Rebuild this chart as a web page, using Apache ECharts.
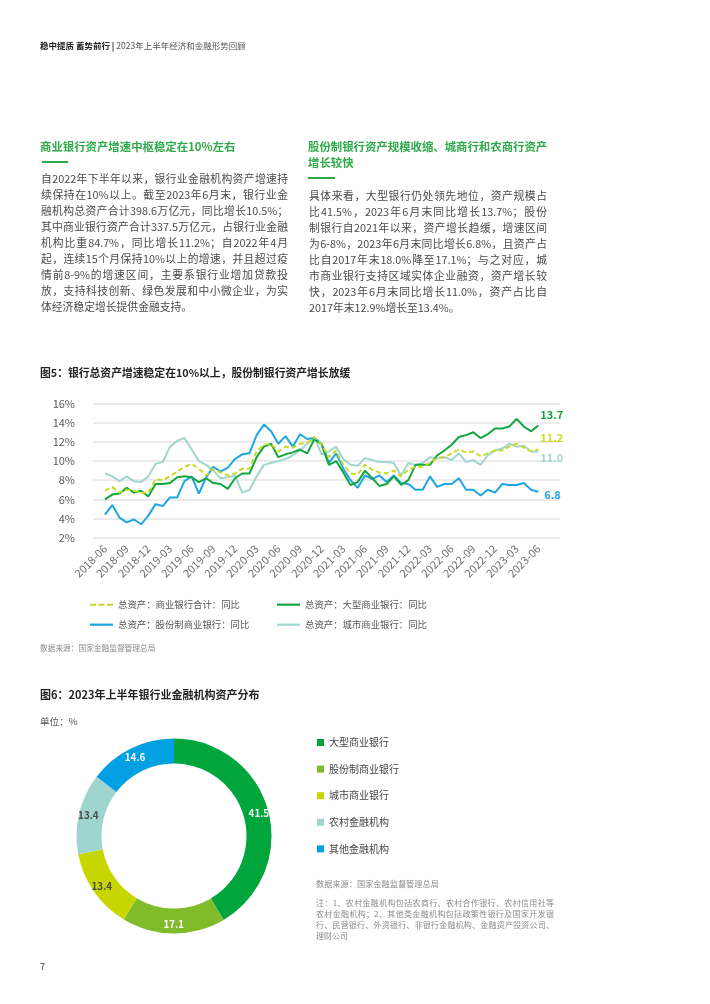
<!DOCTYPE html>
<html><head><meta charset="utf-8">
<script src="https://cdn.jsdelivr.net/npm/echarts/dist/echarts.min.js"></script>
<style>
html,body{margin:0;padding:0;background:#fff;}
body{width:710px;height:1004px;position:relative;font-family:'Noto Sans CJK SC','Noto Sans',sans-serif;overflow:hidden;}
#chart{position:absolute;left:0;top:0;width:710px;height:1004px;}
.abs{position:absolute;white-space:nowrap;z-index:2;}
.para{position:absolute;z-index:2;color:#4a4a4a;font-size:10.8px;}
.para div{height:16px;line-height:16px;text-align:justify;text-align-last:justify;}
.para div.last{text-align-last:left;}
.title{color:#2eaa4a;font-weight:bold;font-size:11.4px;line-height:16px;}
.bar{position:absolute;height:2px;background:#2eaa4a;z-index:2;}
.note{position:absolute;z-index:2;color:#8a8a8a;font-size:8px;}
.note div{height:11px;line-height:11px;text-align:justify;text-align-last:justify;}
.note div.last{text-align-last:left;}
</style></head>
<body>
<div id="chart"></div>

<div class="abs" style="left:40px;top:39px;font-size:8.5px;line-height:12px;color:#555;"><b style="color:#222">稳中提质 蓄势前行</b> <b style="color:#222">|</b> 2023年上半年经济和金融形势回顾</div>

<div class="abs title" style="left:40px;top:138px;">商业银行资产增速中枢稳定在10%左右</div>
<div class="bar" style="left:42px;top:161px;width:26px;"></div>
<div class="para" style="left:41px;top:170px;width:247px;">
<div>自2022年下半年以来，银行业金融机构资产增速持</div>
<div>续保持在10%以上。截至2023年6月末，银行业金</div>
<div>融机构总资产合计398.6万亿元，同比增长10.5%；</div>
<div>其中商业银行资产合计337.5万亿元，占银行业金融</div>
<div>机构比重84.7%，同比增长11.2%；自2022年4月</div>
<div>起，连续15个月保持10%以上的增速，并且超过疫</div>
<div>情前8-9%的增速区间，主要系银行业增加贷款投</div>
<div>放，支持科技创新、绿色发展和中小微企业，为实</div>
<div class="last">体经济稳定增长提供金融支持。</div>
</div>

<div class="abs title" style="left:308px;top:138px;">股份制银行资产规模收缩、城商行和农商行资产<br>增长较快</div>
<div class="bar" style="left:308px;top:177px;width:27px;"></div>
<div class="para" style="left:309px;top:187px;width:238px;">
<div>具体来看，大型银行仍处领先地位，资产规模占</div>
<div>比41.5%，2023年6月末同比增长13.7%；股份</div>
<div>制银行自2021年以来，资产增长趋缓，增速区间</div>
<div>为6-8%，2023年6月末同比增长6.8%，且资产占</div>
<div>比自2017年末18.0%降至17.1%；与之对应，城</div>
<div>市商业银行支持区域实体企业融资，资产增长较</div>
<div>快，2023年6月末同比增长11.0%，资产占比自</div>
<div class="last">2017年末12.9%增长至13.4%。</div>
</div>

<div class="abs" style="left:40px;top:364px;font-size:10.8px;line-height:16px;font-weight:bold;color:#222;">图5：银行总资产增速稳定在10%以上，股份制银行资产增长放缓</div>
<div class="abs" style="left:40px;top:642px;font-size:7.7px;line-height:11px;color:#8a8a8a;">数据来源：国家金融监督管理总局</div>

<div class="abs" style="left:40px;top:686px;font-size:11px;line-height:16px;font-weight:bold;color:#222;">图6：2023年上半年银行业金融机构资产分布</div>
<div class="abs" style="left:40px;top:715px;font-size:9.6px;line-height:13px;color:#555;">单位：%</div>

<div class="abs" style="left:316px;top:878px;font-size:8.2px;line-height:11px;color:#8a8a8a;">数据来源：国家金融监督管理总局</div>
<div class="note" style="left:316px;top:897px;width:238px;">
<div>注：1、农村金融机构包括农商行、农村合作银行、农村信用社等</div>
<div>农村金融机构；2、其他类金融机构包括政策性银行及国家开发银</div>
<div>行、民营银行、外资银行、非银行金融机构、金融资产投资公司、</div>
<div class="last">理财公司</div>
</div>

<div class="abs" style="left:40px;top:961px;font-size:9px;line-height:12px;color:#333;">7</div>

<script>
// ---------- Figure 5 data ----------
const months = [
 '2018-06','2018-07','2018-08','2018-09','2018-10','2018-11','2018-12',
 '2019-01','2019-02','2019-03','2019-04','2019-05','2019-06','2019-07','2019-08','2019-09','2019-10','2019-11','2019-12',
 '2020-01','2020-02','2020-03','2020-04','2020-05','2020-06','2020-07','2020-08','2020-09','2020-10','2020-11','2020-12',
 '2021-01','2021-02','2021-03','2021-04','2021-05','2021-06','2021-07','2021-08','2021-09','2021-10','2021-11','2021-12',
 '2022-01','2022-02','2022-03','2022-04','2022-05','2022-06','2022-07','2022-08','2022-09','2022-10','2022-11','2022-12',
 '2023-01','2023-02','2023-03','2023-04','2023-05','2023-06'
];
const totalBank = [6.9,7.3,6.7,7.0,6.9,6.7,6.7,8.1,8.0,8.4,8.9,9.4,9.7,9.2,8.5,9.2,8.8,8.5,8.7,9.2,9.2,
 11.0,11.7,11.8,11.0,11.5,11.4,11.8,11.9,12.5,11.7,10.4,11.1,9.6,8.7,8.6,9.6,9.1,8.8,8.7,9.0,8.4,9.1,
 9.4,9.4,9.8,10.3,10.4,10.8,11.2,10.9,11.0,10.5,10.8,11.1,11.1,11.5,11.8,11.4,11.0,11.2];
const bigBank = [6.0,6.5,6.6,7.2,6.7,6.9,6.3,7.6,7.6,7.7,8.3,8.4,8.3,7.8,8.2,7.7,7.6,7.1,8.2,8.7,8.7,
 10.4,11.5,11.8,10.4,10.7,10.9,11.2,10.8,12.3,11.7,9.6,10.0,8.8,7.5,7.8,9.0,8.2,7.4,7.6,8.4,7.5,8.0,
 9.6,9.6,9.6,10.6,11.1,11.7,12.5,12.7,13.0,12.4,12.8,13.4,13.4,13.6,14.4,13.6,13.1,13.7];
const jointStock = [4.4,5.4,4.1,3.6,3.9,3.4,4.3,5.5,5.3,6.2,6.2,7.9,8.4,6.6,8.3,9.4,8.9,9.3,10.2,10.7,10.8,
 12.7,13.8,13.1,11.8,12.6,11.5,12.8,12.3,12.4,11.8,9.8,10.8,9.2,8.0,7.2,8.5,8.1,8.5,7.8,8.5,7.7,7.6,
 7.0,7.0,8.4,7.3,7.6,7.6,8.2,7.0,7.0,6.4,7.0,6.7,7.6,7.5,7.5,7.7,7.0,6.8];
const cityBank = [8.7,8.4,7.9,8.4,7.9,7.8,8.4,9.7,9.9,11.5,12.1,12.4,11.2,10.0,9.6,9.0,8.2,8.3,8.5,6.7,7.0,
 8.4,9.6,9.8,10.0,10.2,10.6,11.1,11.8,12.4,10.7,11.0,11.5,10.2,9.6,9.5,10.3,10.1,9.9,9.9,9.8,8.5,9.8,
 9.6,9.8,10.4,10.3,10.4,10.1,10.8,9.9,10.1,9.6,10.6,11.1,11.3,11.8,11.5,11.6,11.0,11.0];
const lineNames = ['总资产：商业银行合计：同比','总资产：大型商业银行：同比','总资产：股份制商业银行：同比','总资产：城市商业银行：同比'];

// ---------- Figure 6 data ----------
const pieNames = ['大型商业银行','股份制商业银行','城市商业银行','农村金融机构','其他金融机构'];
const pieValues = [41.5,17.1,13.4,13.4,14.6];

const FONT = "'Noto Sans CJK SC','Noto Sans',sans-serif";
const C_TOTAL = '#c9d924', C_BIG = '#12a63f', C_JOINT = '#1ea5e3', C_CITY = '#a1d6ce';
const pieColors = ['#00a63c','#7fbb2a','#c8d600','#a0d5cf','#00a0e2'];
const pieLabelColors = ['#fff','#fff','#4a4a4a','#4a4a4a','#fff'];

const chart = echarts.init(document.getElementById('chart'), null, {renderer:'canvas'});

function lineSeries(name, data, color, dashed, endOffset){
  return {
    name, type:'line', data, xAxisIndex:1, yAxisIndex:1,
    symbol:'none', smooth:false,
    lineStyle:{color, width:2, type: dashed ? [5,3] : 'solid'},
    itemStyle:{color},
    endLabel:{show:true, distance:1, offset:endOffset, color, fontSize:11, fontWeight:'bold', fontFamily:FONT,
      formatter:p => Number(p.value).toFixed(1)},
    emphasis:{disabled:true}
  };
}
const DASH_ICON = 'path://M0,0h6v2h-6z M8.5,0h6v2h-6z M17,0h6v2h-6z';
function legendItem(name, left, top, dashed){
  return {data:[{name, icon: dashed ? DASH_ICON : 'rect'}], left, top, itemWidth:23, itemHeight:2.2, itemGap:5, padding:0,
    selectedMode:false, textStyle:{fontSize:9.4, color:'#555', fontFamily:FONT}};
}

const option = {
  animation:false,
  textStyle:{fontFamily:FONT},
  grid:[
    {left:93, top:403.5, width:467, height:134.2},
    {left:105, top:403.5, width:433.3, height:134.2}
  ],
  xAxis:[
    {gridIndex:0, type:'value', min:0, max:1, show:false},
    {gridIndex:1, type:'category', data:months, boundaryGap:false,
      axisLine:{show:false}, axisTick:{show:false},
      axisLabel:{interval:2, rotate:45, fontSize:11, color:'#707070', margin:9, fontFamily:FONT}}
  ],
  yAxis:[
    {gridIndex:0, type:'value', min:2, max:16, interval:2,
      axisLine:{show:false}, axisTick:{show:false},
      axisLabel:{formatter:'{value}%', margin:18, fontSize:11, color:'#595959', fontFamily:FONT},
      splitLine:{lineStyle:{color:'#e4e4e4', width:1.5}}},
    {gridIndex:1, type:'value', min:2, max:16, interval:2, show:false, splitLine:{show:false}}
  ],
  legend:[
    legendItem(lineNames[0], 90, 600, true),
    legendItem(lineNames[1], 277, 600, false),
    legendItem(lineNames[2], 90, 620, false),
    legendItem(lineNames[3], 277, 620, false),
    {data:pieNames, orient:'vertical', left:317, top:736.5, itemWidth:7, itemHeight:7, itemGap:14.6,
      icon:'rect', padding:0, selectedMode:false,
      textStyle:{fontSize:10, lineHeight:12, color:'#444', fontFamily:FONT}}
  ],
  series:[
    lineSeries(lineNames[3], cityBank, C_CITY, false, [1, 6]),
    lineSeries(lineNames[2], jointStock, C_JOINT, false, [5, 3]),
    lineSeries(lineNames[1], bigBank, C_BIG, false, [1, -11]),
    lineSeries(lineNames[0], totalBank, C_TOTAL, true, [1, -12]),
    {
      type:'pie', center:[174,836], radius:[72.5,97.5], startAngle:90, clockwise:true,
      avoidLabelOverlap:false, silent:true,
      label:{show:true, position:'inside', overflow:'none', fontSize:9.8, fontWeight:600, fontFamily:FONT,
        formatter:p => Number(p.value).toFixed(1)},
      labelLine:{show:false},
      data: pieNames.map((n,i)=>({name:n, value:pieValues[i],
        itemStyle:{color:pieColors[i]}, label:{color:pieLabelColors[i]}}))
    }
  ]
};
chart.setOption(option);
</script>
</body></html>
